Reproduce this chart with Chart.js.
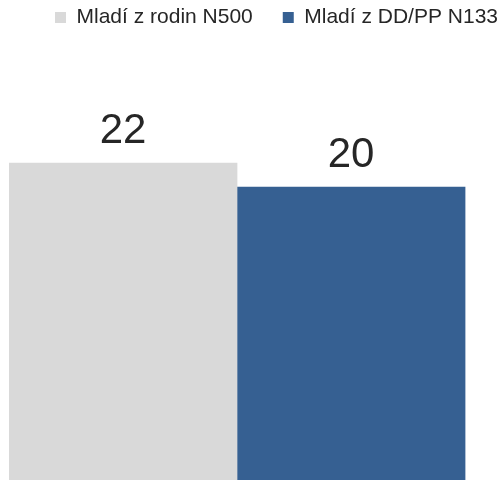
<!DOCTYPE html>
<html>
<head>
<meta charset="utf-8">
<script src="https://cdn.jsdelivr.net/npm/chart.js@4"></script>
<style>
  html, body { margin: 0; padding: 0; background: #fff; }
  #wrap { width: 502px; height: 480px; }
</style>
</head>
<body>
<div id="wrap"><canvas id="myChart"></canvas></div>
<script>
// series names and values
const seriesNames = ['Mladí z rodin N500', 'Mladí z DD/PP N133'];
const seriesValues = [22, 20];
const seriesColors = ['#D9D9D9', '#366092'];

// value axis range (the picture is cropped, bars run off the bottom)
const yMin = -4.42;
const yMax = 32.42;

// the two bars sit side by side at x = 0 and x = 1
const xMin = -0.5;
const xMax = 1.662;

// draw the value above each bar
const valueLabels = {
    id: 'valueLabels',
    afterDatasetsDraw(chart) {
        const ctx = chart.ctx;
        ctx.save();
        ctx.font = '42px "Liberation Sans", Arial, sans-serif';
        ctx.fillStyle = '#262626';
        ctx.textAlign = 'center';
        ctx.textBaseline = 'alphabetic';
        chart.data.datasets.forEach((ds, i) => {
            const meta = chart.getDatasetMeta(i);
            meta.data.forEach((bar, j) => {
                ctx.fillText(String(ds.data[j].y), bar.x, bar.y - 20);
            });
        });
        ctx.restore();
    }
};

const datasets = seriesNames.map((name, i) => ({
    label: name,
    data: [{ x: i, y: seriesValues[i] }],
    backgroundColor: seriesColors[i],
    borderWidth: 0,
    base: yMin,
    grouped: false,
    categoryPercentage: 1,
    barPercentage: 1
}));

const ctx = document.getElementById('myChart').getContext('2d');
const chart = new Chart(ctx, {
    type: 'bar',
    data: { datasets: datasets },
    options: {
        responsive: true,
        maintainAspectRatio: false,
        animation: false,
        // negative padding pushes the legend up and to the right edge
        layout: { padding: { left: 9, right: -26, top: -23, bottom: 0 } },
        plugins: {
            legend: {
                position: 'top',
                align: 'end',
                labels: {
                    boxWidth: 11,
                    boxHeight: 11,
                    padding: 30,
                    color: '#262626',
                    font: { family: '"Liberation Sans", Arial, sans-serif', size: 21 }
                }
            },
            tooltip: { enabled: false }
        },
        scales: {
            x: {
                type: 'linear', min: xMin, max: xMax, offset: false, display: false,
                // one tick per bar so the bar width is the full step between bars
                afterBuildTicks: s => { s.ticks = [{ value: 0 }, { value: 1 }]; }
            },
            y: { min: yMin, max: yMax, display: false }
        }
    },
    plugins: [valueLabels]
});
</script>
</body>
</html>
